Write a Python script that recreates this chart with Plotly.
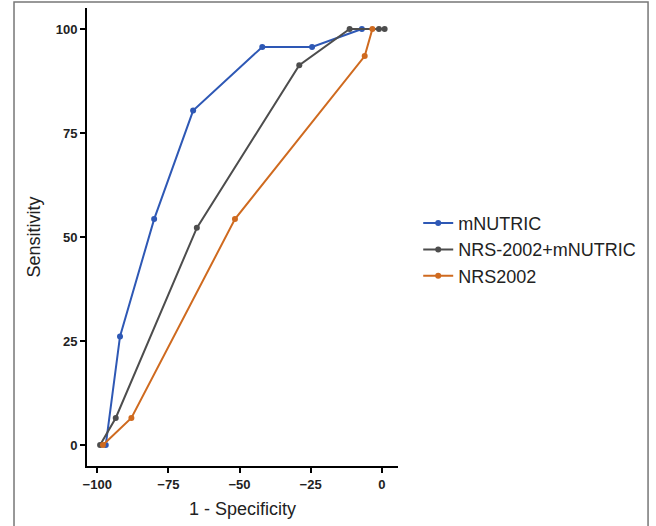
import plotly.graph_objects as go

# ROC-style curves
mnutric_x = [-97, -92, -80, -66.3, -42, -24.5, -7]
mnutric_y = [0, 26.1, 54.3, 80.4, 95.7, 95.7, 100]

combo_x = [-99, -93.5, -65, -29, -11.3, -1, 1]
combo_y = [0, 6.5, 52.2, 91.3, 100, 100, 100]

nrs_x = [-98, -88, -51.6, -6, -3.3]
nrs_y = [0, 6.5, 54.3, 93.5, 100]

x_ticks = [-100, -75, -50, -25, 0]
y_ticks = [0, 25, 50, 75, 100]

series = [
    ("mNUTRIC", mnutric_x, mnutric_y, "#2E58B5"),
    ("NRS-2002+mNUTRIC", combo_x, combo_y, "#4D4D4D"),
    ("NRS2002", nrs_x, nrs_y, "#CF6A1F"),
]

fig = go.Figure()
for name, xs, ys, color in series:
    fig.add_trace(go.Scatter(
        x=xs, y=ys, name=name, mode="lines+markers",
        line=dict(color=color, width=2),
        marker=dict(color=color, size=6),
    ))

axis_common = dict(
    showgrid=False, zeroline=False, showline=True, linecolor="black", linewidth=2,
    ticks="outside", ticklen=5, tickwidth=1.5, tickcolor="black",
    tickfont=dict(family="Liberation Sans", size=13, color="#222", weight="bold"),
)

fig.update_layout(
    width=656, height=526,
    margin=dict(l=87, r=258, t=8, b=60),
    paper_bgcolor="white", plot_bgcolor="white",
    font=dict(family="Liberation Sans", color="#222"),
    xaxis=dict(range=[-103.6, 5.7], tickvals=x_ticks,
               title=dict(text="1 - Specificity", font=dict(size=18), standoff=12),
               **axis_common),
    yaxis=dict(range=[-5.05, 105.05], tickvals=y_ticks,
               title=dict(text="Sensitivity", font=dict(size=18), standoff=10),
               **axis_common),
    legend=dict(x=1.065, y=0.472, xanchor="left", yanchor="middle",
                font=dict(size=18, color="#222"), tracegroupgap=0,
                itemwidth=30, bgcolor="rgba(0,0,0,0)"),
    shapes=[dict(type="rect", xref="paper", yref="paper",
                 x0=-0.2347, x1=1.804, y0=-0.15, y1=1.0131,
                 line=dict(color="#777", width=1.5), layer="below")],
)

# the page body has a default 8px margin; drop it so the figure sits at the window's corner
fig.write_html("out.html", config={"displayModeBar": False},
               post_script="document.body.style.margin='0';")
